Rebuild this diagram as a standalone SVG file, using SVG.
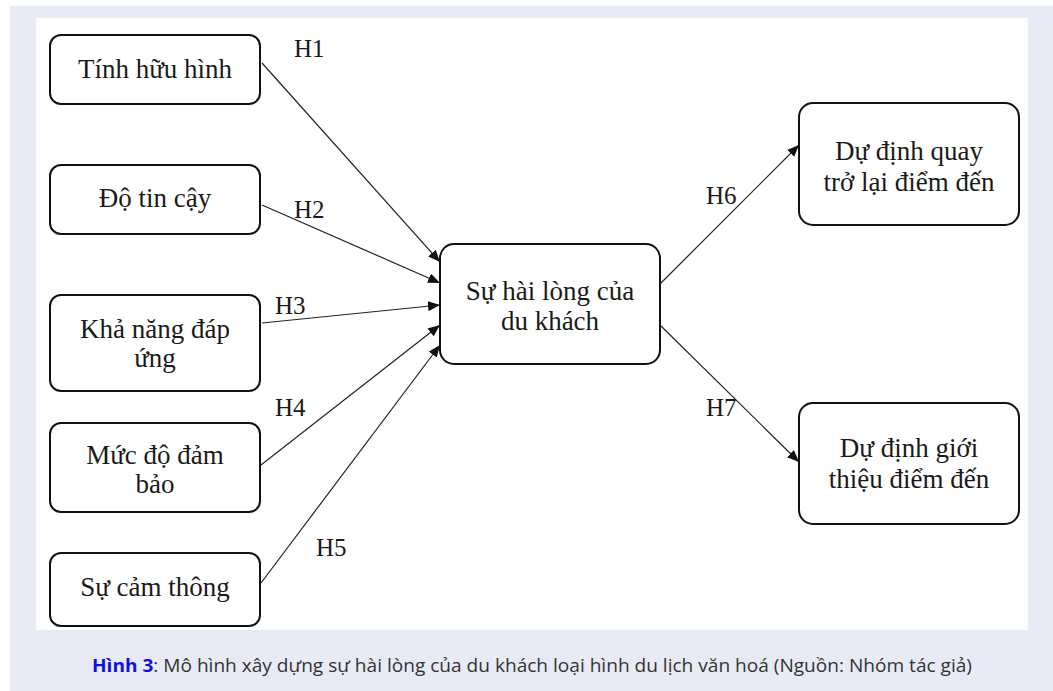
<svg xmlns="http://www.w3.org/2000/svg" width="1053" height="691" viewBox="0 0 1053 691">
<style>
.box{fill:#fff;stroke:#111;stroke-width:2}
.t{font-family:"Liberation Serif","Times New Roman",serif;font-size:27px;fill:#1a1a1a;text-anchor:middle}
.h{font-family:"Liberation Serif","Times New Roman",serif;font-size:25px;fill:#1a1a1a}
.c{stroke:#222;stroke-width:1.2;fill:none;marker-end:url(#ah)}
.cap{font-family:"Open Sans","Noto Sans","Liberation Sans",sans-serif;font-size:17.5px;fill:#333}
</style>
<defs>
<marker id="ah" viewBox="0 0 12 10" refX="12" refY="5" markerWidth="12" markerHeight="10" markerUnits="userSpaceOnUse" orient="auto">
<path d="M0,0 L12,5 L0,10 Z" fill="#111"/>
</marker>
</defs>
<rect x="0" y="0" width="1053" height="691" fill="#fff"/>
<rect x="10" y="6" width="1043" height="685" fill="#e8ebf5"/>
<rect x="36" y="18" width="992" height="612" fill="#fff"/>
<g id="connectors">
<line class="c" x1="262" y1="63" x2="440" y2="262"/>
<line class="c" x1="262" y1="205" x2="440" y2="283"/>
<line class="c" x1="262" y1="323" x2="440" y2="305"/>
<line class="c" x1="261" y1="465" x2="440" y2="325"/>
<line class="c" x1="261" y1="583" x2="440" y2="345"/>
<line class="c" x1="660" y1="284" x2="799" y2="145"/>
<line class="c" x1="661" y1="326" x2="799" y2="462"/>
<text class="h" x="294" y="57">H1</text>
<text class="h" x="294" y="218">H2</text>
<text class="h" x="275" y="314">H3</text>
<text class="h" x="275" y="416">H4</text>
<text class="h" x="316" y="556">H5</text>
<text class="h" x="706" y="204">H6</text>
<text class="h" x="706" y="416">H7</text>
</g>
<g id="n1"><rect class="box" x="50" y="35" width="210" height="69" rx="11"/><text class="t" x="155" y="78">Tính hữu hình</text></g>
<g id="n2"><rect class="box" x="50" y="165" width="210" height="69" rx="11"/><text class="t" x="155" y="207">Độ tin cậy</text></g>
<g id="n3"><rect class="box" x="50" y="295" width="210" height="96" rx="11"/><text class="t" x="155" y="338">Khả năng đáp</text><text class="t" x="155" y="367">ứng</text></g>
<g id="n4"><rect class="box" x="50" y="423" width="210" height="89" rx="11"/><text class="t" x="155" y="464">Mức độ đảm</text><text class="t" x="155" y="493">bảo</text></g>
<g id="n5"><rect class="box" x="50" y="553" width="210" height="73" rx="11"/><text class="t" x="155" y="596">Sự cảm thông</text></g>
<g id="center"><rect class="box" x="440" y="244" width="220" height="120" rx="14"/><text class="t" x="550" y="300">Sự hài lòng của</text><text class="t" x="550" y="330">du khách</text></g>
<g id="r1"><rect class="box" x="799" y="103" width="220" height="122" rx="14"/><text class="t" x="909" y="160">Dự định quay</text><text class="t" x="909" y="191">trở lại điểm đến</text></g>
<g id="r2"><rect class="box" x="799" y="403" width="220" height="121" rx="14"/><text class="t" x="909" y="457">Dự định giới</text><text class="t" x="909" y="488">thiệu điểm đến</text></g>
<text class="cap" x="92" y="672" textLength="880" lengthAdjust="spacingAndGlyphs"><tspan font-weight="bold" fill="#1010e0">Hình 3</tspan>: Mô hình xây dựng sự hài lòng của du khách loại hình du lịch văn hoá (Nguồn: Nhóm tác giả)</text>
</svg>
